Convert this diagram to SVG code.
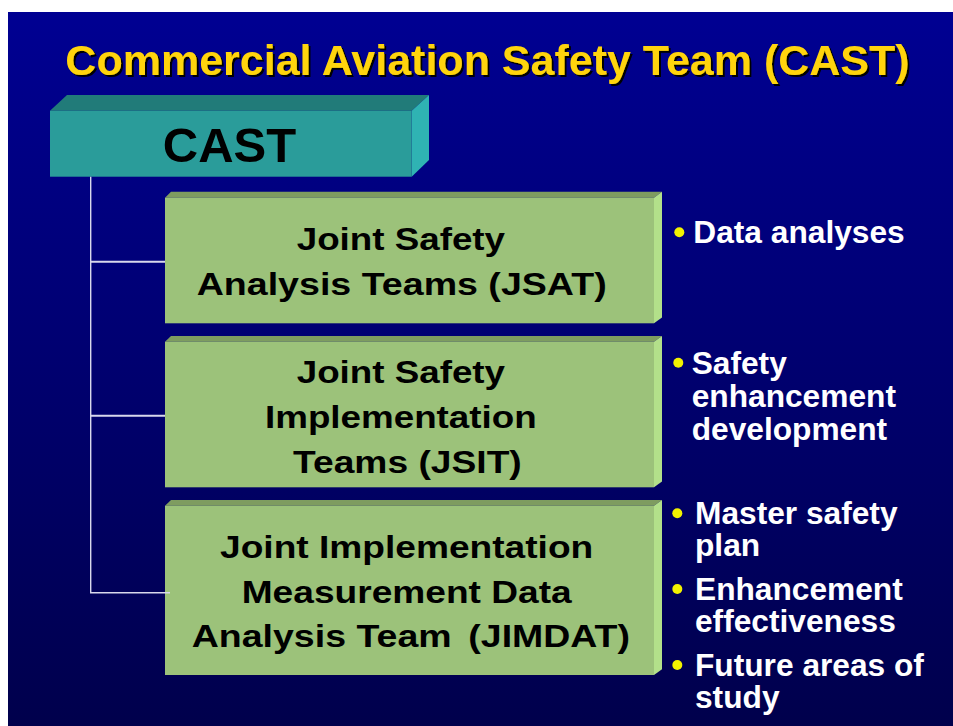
<svg xmlns="http://www.w3.org/2000/svg" width="953" height="726" viewBox="0 0 953 726">
  <defs>
    <linearGradient id="bg" x1="0" y1="0" x2="0" y2="1">
      <stop offset="0" stop-color="#000092"/>
      <stop offset="1" stop-color="#00004C"/>
    </linearGradient>
    <filter id="shadow" x="-5%" y="-20%" width="110%" height="140%">
      <feDropShadow dx="2" dy="2" stdDeviation="0.3" flood-color="#000000" flood-opacity="1"/>
    </filter>
  </defs>
  <style>
    .title { font-family: "Liberation Sans", Arial, sans-serif; font-weight: bold; font-size: 43px; fill: #FFD40A; }
    .boxtxt { font-family: "Liberation Sans", Arial, sans-serif; font-weight: bold; font-size: 32px; fill: #000; }
    .casttxt { font-family: "Liberation Sans", Arial, sans-serif; font-weight: bold; font-size: 49px; fill: #000; }
    .bul { font-family: "Liberation Sans", Arial, sans-serif; font-weight: bold; font-size: 31.7px; fill: #FFFFFF; }
    .dot { fill: #F2F200; }
    .gfront { fill: #9CC27A; }
    .gtop { fill: #7E9C60; }
    .gside { fill: #B3E08A; }
    .tfront { fill: #2A9C9A; }
    .ttop { fill: #217B79; }
    .tside { fill: #2FB3B3; }
    .conn { stroke: #D8D8EC; fill: none; }
  </style>

  <!-- backdrop -->
  <rect x="0" y="0" width="953" height="726" fill="#FFFFFF"/>
  <rect x="8" y="12" width="945" height="714" fill="url(#bg)"/>

  <!-- heading -->
  <g id="title">
    <text class="title" x="487.5" y="75" text-anchor="middle" filter="url(#shadow)">Commercial Aviation Safety Team (CAST)</text>
  </g>

  <!-- top-level box -->
  <g id="cast">
    <polygon class="ttop" points="50,110.7 67,95 429,95 411.7,110.7"/>
    <polygon class="tside" points="411.7,110.7 429,95 429,160 411.7,176.7"/>
    <rect class="tfront" x="50" y="110.7" width="361.7" height="66"/>
    <text class="casttxt" x="229.5" y="161.7" text-anchor="middle">CAST</text>
  </g>

  <!-- JSAT (box lines are set in a horizontally widened face) -->
  <g id="jsat">
    <polygon class="gtop" points="165,197.7 171,191.7 662,191.7 654,197.7"/>
    <polygon class="gside" points="654,197.7 662,191.7 662,317.5 654,323.3"/>
    <rect class="gfront" x="165" y="197.7" width="489" height="125.6"/>
    <g transform="translate(296.7 250) scale(1.16 1)">
      <text class="boxtxt" x="0" y="0" textLength="179.6" lengthAdjust="spacingAndGlyphs">Joint Safety</text>
    </g>
    <g transform="translate(196.7 295) scale(1.16 1)">
      <text class="boxtxt" x="0" y="0" textLength="353.4" lengthAdjust="spacingAndGlyphs">Analysis Teams (JSAT)</text>
    </g>
  </g>

  <!-- JSIT -->
  <g id="jsit">
    <polygon class="gtop" points="165,341.7 171,336 662,336 654,341.7"/>
    <polygon class="gside" points="654,341.7 662,336 662,481.5 654,487.3"/>
    <rect class="gfront" x="165" y="341.7" width="489" height="145.6"/>
    <g transform="translate(296.7 383.3) scale(1.16 1)">
      <text class="boxtxt" x="0" y="0" textLength="179.6" lengthAdjust="spacingAndGlyphs">Joint Safety</text>
    </g>
    <g transform="translate(265 428.3) scale(1.16 1)">
      <text class="boxtxt" x="0" y="0" textLength="234.2" lengthAdjust="spacingAndGlyphs">Implementation</text>
    </g>
    <g transform="translate(293 473.3) scale(1.16 1)">
      <text class="boxtxt" x="0" y="0" textLength="197.2" lengthAdjust="spacingAndGlyphs">Teams (JSIT)</text>
    </g>
  </g>

  <!-- JIMDAT -->
  <g id="jimdat">
    <polygon class="gtop" points="165,505.7 171,500 662,500 654,505.7"/>
    <polygon class="gside" points="654,505.7 662,500 662,669.3 654,675"/>
    <rect class="gfront" x="165" y="505.7" width="489" height="169.3"/>
    <g transform="translate(220 558.3) scale(1.16 1)">
      <text class="boxtxt" x="0" y="0" textLength="321.8" lengthAdjust="spacingAndGlyphs">Joint Implementation</text>
    </g>
    <g transform="translate(241.7 603.3) scale(1.16 1)">
      <text class="boxtxt" x="0" y="0" textLength="284.5" lengthAdjust="spacingAndGlyphs">Measurement Data</text>
    </g>
    <g transform="translate(191.7 646.7) scale(1.16 1)">
      <text class="boxtxt" x="0" y="0" textLength="224.1" lengthAdjust="spacingAndGlyphs">Analysis Team</text>
    </g>
    <g transform="translate(468.3 646.7) scale(1.16 1)">
      <text class="boxtxt" x="0" y="0" textLength="139.4" lengthAdjust="spacingAndGlyphs">(JIMDAT)</text>
    </g>
  </g>

  <!-- bullet notes -->
  <g id="notes-jsat">
    <circle class="dot" cx="679.3" cy="232.3" r="5"/>
    <text class="bul" x="693.3" y="243.3">Data analyses</text>
  </g>
  <g id="notes-jsit">
    <circle class="dot" cx="678.3" cy="362.7" r="5"/>
    <text class="bul" x="691.7" y="374">Safety</text>
    <text class="bul" x="691.7" y="407.3">enhancement</text>
    <text class="bul" x="691.7" y="440">development</text>
  </g>
  <g id="notes-jimdat">
    <circle class="dot" cx="677.3" cy="513.3" r="5"/>
    <text class="bul" x="695" y="524">Master safety</text>
    <text class="bul" x="695" y="555.5">plan</text>
    <circle class="dot" cx="677.3" cy="589" r="5"/>
    <text class="bul" x="695" y="600">Enhancement</text>
    <text class="bul" x="695" y="631.7">effectiveness</text>
    <circle class="dot" cx="677.3" cy="665" r="5"/>
    <text class="bul" x="695" y="675.7">Future areas of</text>
    <text class="bul" x="695" y="708.3">study</text>
  </g>

  <!-- tree connectors -->
  <g id="connectors">
    <line class="conn" x1="90.7" y1="176.7" x2="90.7" y2="593" stroke-width="1.4"/>
    <line class="conn" x1="90.7" y1="261.7" x2="165" y2="261.7" stroke="#FFFFFF" stroke-width="2"/>
    <line class="conn" x1="90.7" y1="415.7" x2="165" y2="415.7" stroke="#FFFFFF" stroke-width="2"/>
    <line class="conn" x1="90" y1="592.8" x2="170" y2="592.8" stroke-width="1.4"/>
  </g>
</svg>
